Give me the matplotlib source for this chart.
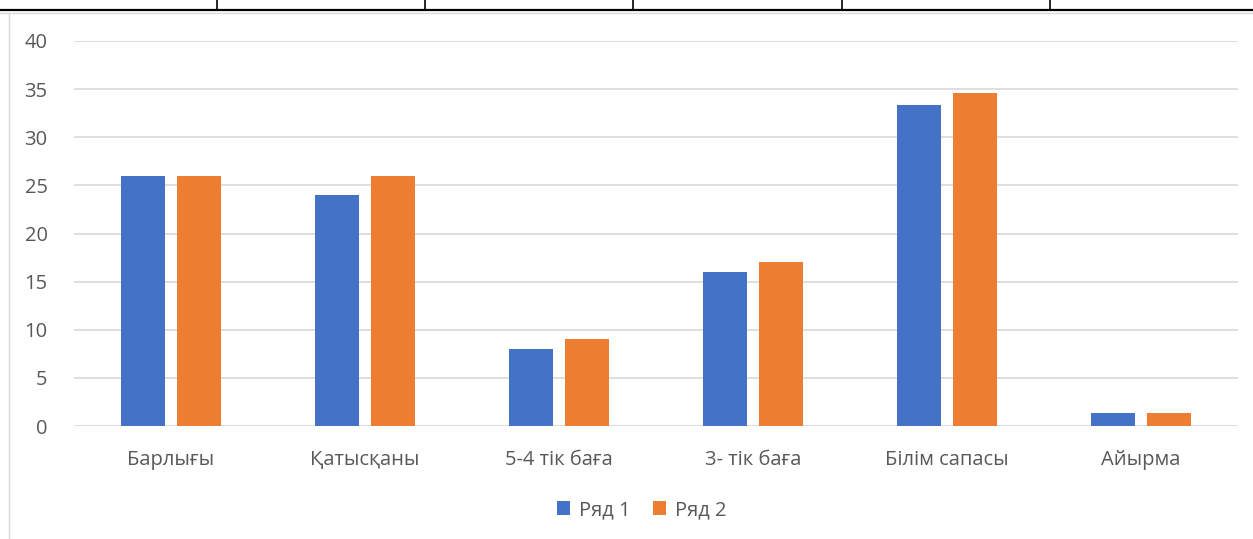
import matplotlib
matplotlib.use('Agg')
import matplotlib.pyplot as plt
from matplotlib.lines import Line2D
import numpy as np

plt.rcParams['font.family'] = ['Open Sans', 'DejaVu Sans']

# ── Data ────────────────────────────────────────────────────────────────────
categories = ['Барлығы', 'Қатысқаны', '5-4 тік баға', '3- тік баға',
              'Білім сапасы', 'Айырма']
series1 = [26, 24, 8, 16, 33.3, 1.3]
series2 = [26, 26, 9, 17, 34.6, 1.3]
series_names = ['Ряд 1', 'Ряд 2']
yticks = [0, 5, 10, 15, 20, 25, 30, 35, 40]

BLUE = '#4472C4'
ORANGE = '#ED7D31'
TXT = '#595959'
FS = 14.5

W, H = 1253, 539
fig = plt.figure(figsize=(W / 100, H / 100), dpi=100)
ax = fig.add_axes([74 / W, 1 - 426 / H, (1238 - 74) / W, (426 - 41) / H])

x = np.arange(len(categories))
bw = 0.227
off = 0.142
ax.bar(x - off, series1, bw, color=BLUE, label=series_names[0], zorder=3)
ax.bar(x + off, series2, bw, color=ORANGE, label=series_names[1], zorder=3)

ax.set_xlim(-0.5, len(categories) - 0.5)
ax.set_ylim(0, 40)
ax.set_yticks(yticks)
ax.set_xticks(x)
ax.set_xticklabels(categories)
ax.tick_params(axis='both', length=0, labelsize=FS, colors=TXT)
ax.tick_params(axis='x', pad=17)
ax.tick_params(axis='y', pad=19)
ax.grid(axis='y', color='#D9D9D9', linewidth=1.2, zorder=0)
for s in ax.spines.values():
    s.set_visible(False)

leg = fig.legend(loc='center', bbox_to_anchor=(642 / W, 1 - 510 / H), ncol=2,
                 frameon=False, fontsize=FS, handlelength=0.65,
                 handleheight=0.65, handletextpad=0.45, columnspacing=1.1)
for t in leg.get_texts():
    t.set_color(TXT)

# table border remnants above the chart
fig.add_artist(Line2D([0, 1], [1 - 9.5 / H] * 2, color='black', linewidth=1.6))
for vx in [217, 425, 633, 842, 1050]:
    fig.add_artist(Line2D([vx / W] * 2, [1, 1 - 9.5 / H], color='black', linewidth=1.2))
fig.add_artist(Line2D([0, 1], [1 - 12.5 / H] * 2, color='#D9D9D9', linewidth=1))
fig.add_artist(Line2D([9 / W] * 2, [0, 1 - 12.5 / H], color='#D9D9D9', linewidth=1))

fig.savefig('out.png', dpi=100)
